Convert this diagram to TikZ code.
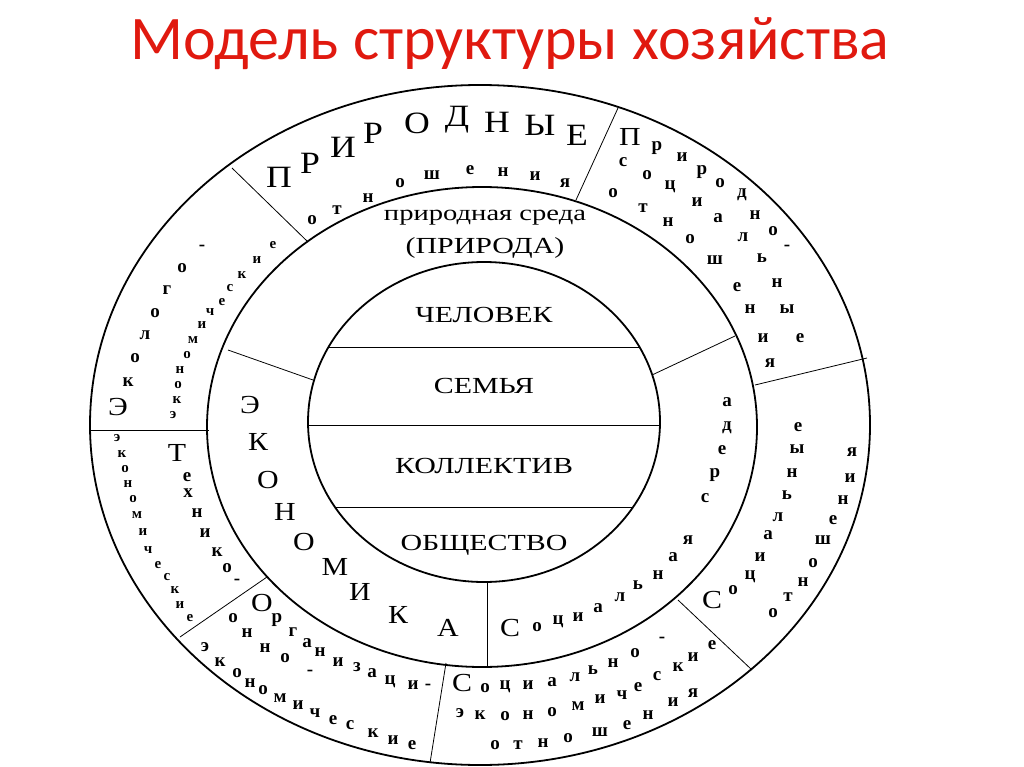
\documentclass[tikz,border=0pt]{standalone}
\usepackage{fontspec}
\setmainfont{Liberation Serif}
\newfontfamily\titlefont{Carlito}
\definecolor{titlered}{HTML}{E0190F}
\begin{document}
\begin{tikzpicture}[x=1pt,y=-1pt,
  ring/.style={line width=1.8pt},
  div/.style={line width=0.8pt},
  sm/.style={inner sep=0pt,font=\fontsize{19}{19}\selectfont\bfseries},
  tiny/.style={inner sep=0pt,font=\fontsize{15}{15}\selectfont\bfseries},
  big/.style={inner sep=0pt,xscale=1.15,font=\fontsize{31}{31}\selectfont},
  med/.style={inner sep=0pt,xscale=1.15,font=\fontsize{26}{26}\selectfont},
  lab/.style={inner sep=0pt,xscale=1.3,font=\fontsize{23}{23}\selectfont}]
\useasboundingbox (0,0) rectangle (1024,767);
\node[text=titlered,font=\titlefont\fontsize{62}{62}\selectfont] (title) at (510,44) {Модель структуры хозяйства};
% rings
\draw[ring] (480,425) ellipse [x radius=390,y radius=340];
\draw[ring] (482,427) ellipse [x radius=275,y radius=240];
\draw[ring] (484,422) ellipse [x radius=176,y radius=160];
\begin{scope}
\clip (484,422) ellipse [x radius=176,y radius=160];
\draw[div,line width=1pt] (300,347) -- (670,347) (300,425) -- (670,425) (300,507) -- (670,507);
\end{scope}
\node[lab] (n1) at (484,315) {ЧЕЛОВЕК};
\node[lab] (n2) at (484,386) {СЕМЬЯ};
\node[lab] (n3) at (484,466) {КОЛЛЕКТИВ};
\node[lab] (n4) at (484,545) {ОБЩЕСТВО};
\node[lab,font=\fontsize{22}{22}\selectfont] (pr1) at (485,218) {природная среда};
\node[lab] (pr2) at (485,248) {(ПРИРОДА)};
% dividers
\draw[div] (232,168) -- (308,242);
\draw[div] (618,108) -- (576,200);
\draw[div] (867,358) -- (755,385);
\draw[div] (752,670) -- (678,600);
\draw[div] (430,763) -- (446,663);
\draw[div] (180,637) -- (267,577);
\draw[div] (90,430) -- (209,430);
\draw[div] (228,350) -- (313,380);
\draw[div] (652,375) -- (735,336);
\draw[div] (487,583) -- (487,666);
% big letters
\foreach \x/\y/\t in {279/177/П,310/163/Р,343/147/И,373/133/Р,417/123/О,457/120/Д,497/122/Н,540/125/Ы,577/135/Е}
  \node[big] at (\x,\y) {\t};
\foreach \x/\y/\t in {250/405/Э,258/442/К,268/480/О,285/512/Н,304/542/О,335/567/М,360/592/И,398/615/К,448/628/А}
  \node[med] at (\x,\y) {\t};
\foreach \x/\y/\t in {118/407/Э,177/453/Т,630/137/П,712/600/С,510/628/С,462/683/С,262/603/О}
  \node[med] at (\x,\y) {\t};
% small letters
\foreach \x/\y/\t in {312/220/о,337/210/т,368/198/н,400/183/о,432/175/ш,470/170/е,503/172/н,535/176/и,565/183/я,
  657/148/р,682/157/и,702/172/р,720/183/о,742/195/д,755/215/н,773/231/о,787/248/-,
  623/162/с,647/175/о,670/187/ц,697/202/и,718/218/а,743/237/л,762/258/ь,777/283/н,787/309/ы,800/338/е,
  613/193/о,643/208/т,668/222/н,690/239/о,715/260/ш,737/287/е,750/309/н,763/338/и,770/363/я,
  733/590/о,750/577/ц,760/557/и,768/535/а,778/517/л,787/495/ь,792/473/н,797/449/ы,798/427/е,
  773/613/о,788/597/т,803/582/н,813/563/о,823/540/ш,833/520/е,843/500/н,850/478/и,852/452/я,
  537/627/о,558/622/ц,578/617/и,598/608/а,620/597/л,638/585/ь,658/575/н,673/557/а,688/540/я,
  705/498/с,715/475/р,722/450/е,727/428/д,727/402/а,
  485/688/о,505/687/ц,528/685/и,552/682/а,575/677/л,593/670/ь,613/663/н,635/653/о,662/640/-,
  460/713/э,480/715/к,505/716/о,528/715/н,552/712/о,578/706/м,600/699/и,622/695/ч,638/687/е,657/676/с,678/667/к,693/657/и,712/645/е,
  495/745/о,518/745/т,543/743/н,568/738/о,600/732/ш,627/725/е,648/715/н,673/702/и,693/693/я,
  277/620/р,293/632/г,307/643/а,320/652/н,338/662/и,357/667/з,372/673/а,390/682/ц,413/685/и,428/687/-,
  233/618/о,247/633/н,265/648/н,285/658/о,310/673/-,
  205/647/э,220/662/к,237/673/о,250/683/н,263/690/о,280/698/м,298/705/и,315/713/ч,333/720/е,350/725/с,373/733/к,393/740/и,412/745/е,
  187/477/е,188/493/х,197/513/н,205/533/и,217/552/к,227/568/о,237/582/-,
  128/382/к,135/358/о,145/335/л,155/313/о,167/290/г,182/268/о,202/248/-}
  \node[sm] at (\x,\y) {\t};
\foreach \x/\y/\t in {
  117/438/э,122/454/к,125/469/о,128/484/н,133/499/о,137/515/м,143/532/и,148/550/ч,158/565/е,167/577/с,175/590/к,180/605/и,190/618/е,
  173/415/э,177/400/к,178/385/о,180/370/н,187/355/о,193/340/м,202/325/и,210/312/ч,222/302/е,230/288/с,242/275/к,257/260/и,273/245/е}
  \node[tiny] at (\x,\y) {\t};
\end{tikzpicture}
\end{document}
